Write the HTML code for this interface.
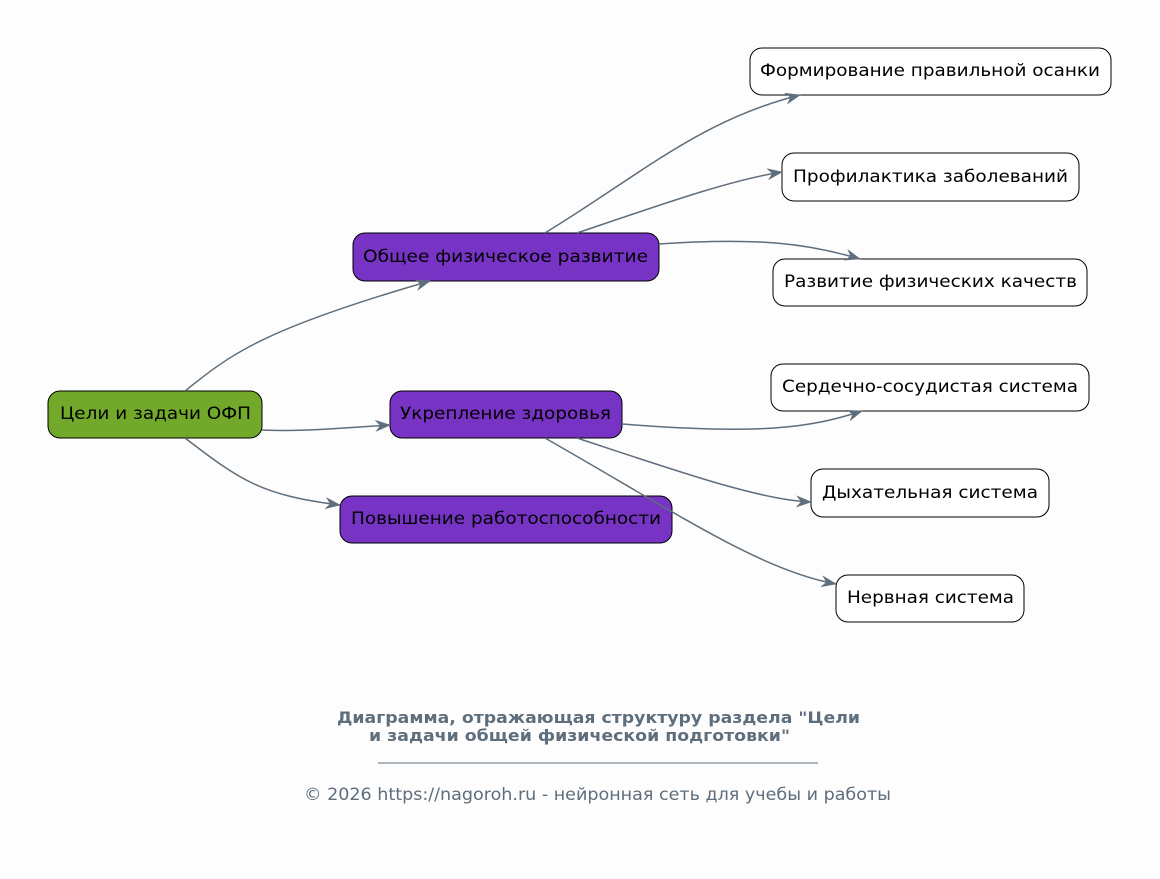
<!DOCTYPE html>
<html><head><meta charset="utf-8"><style>
html,body{margin:0;padding:0;background:#fdfdfd;}
svg{display:block;font-family:"DejaVu Sans","Liberation Sans",sans-serif;}
</style></head><body>
<svg width="1160" height="879" viewBox="0 0 1160 879" xmlns="http://www.w3.org/2000/svg">
<defs>
<marker id="a" viewBox="0 0 16 12" refX="15" refY="6" markerWidth="16" markerHeight="12" markerUnits="userSpaceOnUse" orient="auto">
<path d="M0,0 L16,6 L0,12 L5,6 Z" fill="#5f6e7c"/>
</marker>
</defs>
<rect width="1160" height="879" fill="#fdfdfd"/>
<g stroke="#000" stroke-width="1">
<rect x="48" y="391" width="214" height="47" rx="12" fill="#73a92a"/>
<rect x="353" y="233" width="306" height="48" rx="12" fill="#7733c4"/>
<rect x="390" y="391" width="232" height="47" rx="12" fill="#7733c4"/>
<rect x="340" y="496" width="332" height="47" rx="12" fill="#7733c4"/>
<rect x="750" y="48" width="361" height="47" rx="12" fill="#fff"/>
<rect x="782" y="153" width="297" height="48" rx="12" fill="#fff"/>
<rect x="773" y="259" width="314" height="47" rx="12" fill="#fff"/>
<rect x="771" y="364" width="318" height="47" rx="12" fill="#fff"/>
<rect x="811" y="469" width="238" height="48" rx="12" fill="#fff"/>
<rect x="836" y="575" width="188" height="47" rx="12" fill="#fff"/>
</g>
<g fill="none" stroke="#5f6e7c" stroke-width="1.5" marker-end="url(#a)">
<path d="M185,391 C230,355 260,330 430,281"/>
<path d="M262,430 C300,432 340,428 390,425"/>
<path d="M185,438 C240,480 260,495 340,505"/>
<path d="M545,233 C640,175 700,120 800,95"/>
<path d="M577,233 C660,205 730,180 782,172"/>
<path d="M659,244 C760,237 810,244 860,259"/>
<path d="M622,424 C760,435 810,428 862,411"/>
<path d="M577,438 C680,472 760,500 811,502"/>
<path d="M545,438 C680,515 760,570 836,584"/>
</g>
<g font-size="17" fill="#000" dominant-baseline="central" lengthAdjust="spacingAndGlyphs">
<text x="60" y="414" textLength="191" lengthAdjust="spacingAndGlyphs">Цели и задачи ОФП</text>
<text x="363" y="257" textLength="285" lengthAdjust="spacingAndGlyphs">Общее физическое развитие</text>
<text x="400" y="414" textLength="211" lengthAdjust="spacingAndGlyphs">Укрепление здоровья</text>
<text x="351" y="519" textLength="310" lengthAdjust="spacingAndGlyphs">Повышение работоспособности</text>
<text x="760" y="71" textLength="340" lengthAdjust="spacingAndGlyphs">Формирование правильной осанки</text>
<text x="793" y="177" textLength="275" lengthAdjust="spacingAndGlyphs">Профилактика заболеваний</text>
<text x="784" y="282" textLength="293" lengthAdjust="spacingAndGlyphs">Развитие физических качеств</text>
<text x="782" y="387" textLength="296" lengthAdjust="spacingAndGlyphs">Сердечно-сосудистая система</text>
<text x="822" y="493" textLength="216" lengthAdjust="spacingAndGlyphs">Дыхательная система</text>
<text x="847" y="598" textLength="167" lengthAdjust="spacingAndGlyphs">Нервная система</text>
</g>
<g fill="#5f6e7c">
<text x="337" y="723" font-size="16" font-weight="bold" textLength="523" lengthAdjust="spacingAndGlyphs">Диаграмма, отражающая структуру раздела "Цели</text>
<text x="369" y="741" font-size="16" font-weight="bold" textLength="421" lengthAdjust="spacingAndGlyphs">и задачи общей физической подготовки"</text>
<line x1="378" y1="763" x2="818" y2="763" stroke="#5f6e7c" stroke-width="1"/>
<text x="304" y="800" font-size="17" textLength="587" lengthAdjust="spacingAndGlyphs">© 2026 https://nagoroh.ru - нейронная сеть для учебы и работы</text>
</g>
</svg>
</body></html>
